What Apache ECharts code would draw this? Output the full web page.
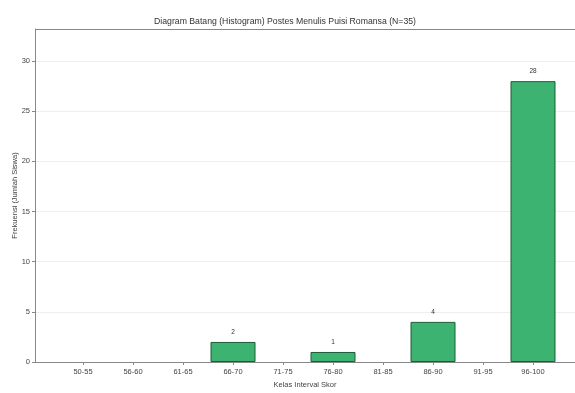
<!DOCTYPE html>
<html><head><meta charset="utf-8">
<script src="https://cdn.jsdelivr.net/npm/echarts@6/dist/echarts.min.js"></script>
<style>html,body{margin:0;padding:0;background:#fff}#c{width:575px;height:393px}</style>
</head><body><div id="c"></div>
<script>
const categories = ['50-55','56-60','61-65','66-70','71-75','76-80','81-85','86-90','91-95','96-100'];
const frequencies = [0,0,0,2,0,1,0,4,0,28];
const yTicks = [0,5,10,15,20,25,30];
const titleText = 'Diagram Batang (Histogram) Postes Menulis Puisi Romansa (N=35)';
const xName = 'Kelas Interval Skor';
const yName = 'Frekuensi (Jumlah Siswa)';

const font = 'Liberation Sans';
const chart = echarts.init(document.getElementById('c'), null, {renderer:'canvas'});
const idx = categories.map((_, i) => i);
chart.setOption({
  animation:false,
  backgroundColor:'#fff',
  title:{text:titleText,left:280,top:12,textAlign:'center',
    textStyle:{fontFamily:font,fontSize:8.7,fontWeight:'normal',color:'#333'}},
  grid:{left:35,right:0,top:29,bottom:31,show:false,outerBoundsMode:'none',containLabel:false},
  xAxis:{type:'value',min:-0.96,max:9.84,
    name:xName,nameLocation:'middle',nameGap:18,
    nameTextStyle:{fontFamily:font,fontSize:7.5,color:'#444'},
    axisLine:{show:true,onZero:false,lineStyle:{color:'#888',width:1}},
    axisTick:{show:true,customValues:idx,length:3,lineStyle:{color:'#888'}},
    axisLabel:{customValues:idx,formatter:v=>categories[Math.round(v)],
      fontFamily:font,fontSize:7.5,color:'#444',margin:6},
    splitLine:{show:false}},
  yAxis:{type:'value',min:0,max:33.2,
    name:yName,nameLocation:'middle',nameGap:16,nameMoveOverlap:false,
    nameTextStyle:{fontFamily:font,fontSize:7.5,color:'#444'},
    axisLine:{show:true,onZero:false,lineStyle:{color:'#888',width:1}},
    axisTick:{show:true,customValues:yTicks,length:3,lineStyle:{color:'#888'}},
    axisLabel:{customValues:yTicks,fontFamily:font,fontSize:7.5,color:'#444',margin:5},
    splitLine:{show:true,lineStyle:{color:'#eeeeee',width:1}}},
  series:[{type:'bar',barWidth:45,
    data:frequencies.map((v,i)=>[i, v > 0 ? v : null]),
    itemStyle:{color:'#3cb371',borderColor:'#1e5a36',borderWidth:1},
    label:{show:true,position:'top',distance:6,
      formatter:p=>p.value[1]>0?String(p.value[1]):'',
      fontFamily:font,fontSize:6.5,color:'#333'}},
    {type:'line',data:[],markLine:{silent:true,symbol:'none',
      lineStyle:{color:'#888',width:1,type:'solid'},label:{show:false},
      data:[{yAxis:33.2}]}}]
});
</script></body></html>
